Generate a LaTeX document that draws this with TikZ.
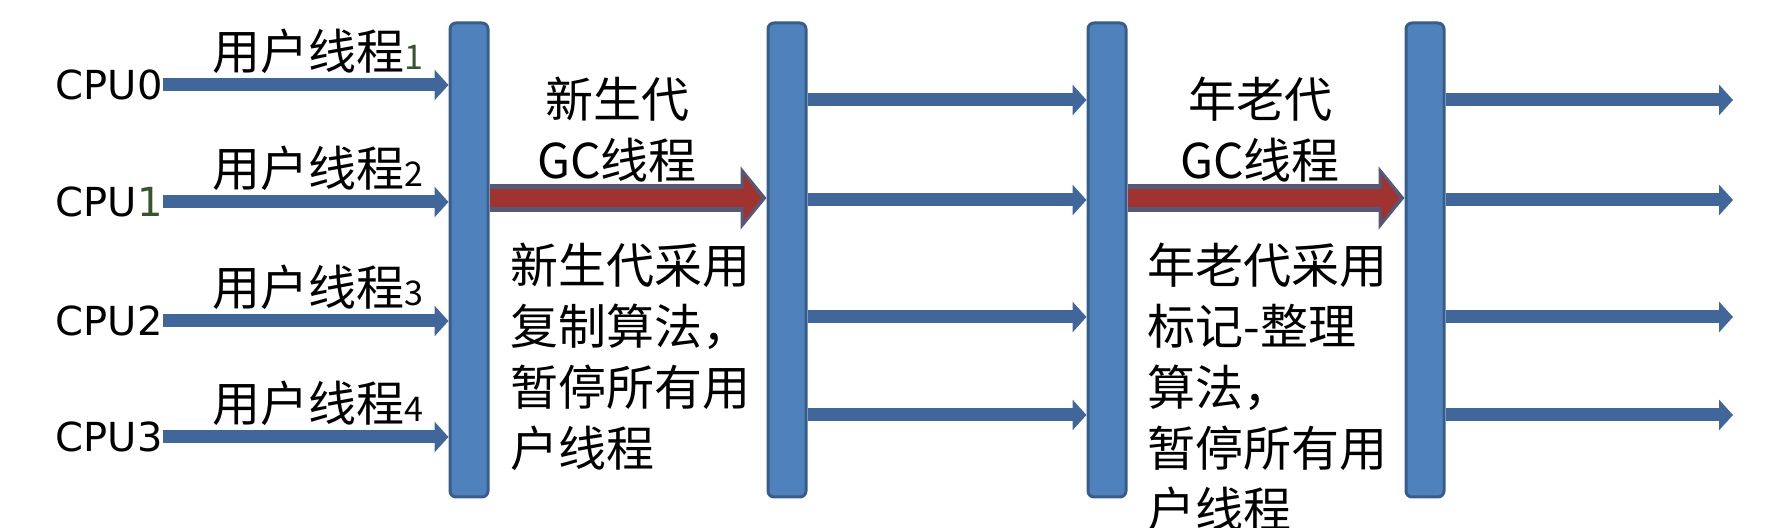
\documentclass[tikz,border=0pt]{standalone}
\usepackage{fontspec}
\setmainfont{DejaVu Sans}
\newfontfamily\cjk{Noto Sans CJK SC}
\usetikzlibrary{arrows.meta}
\definecolor{barfill}{RGB}{79,129,189}
\definecolor{barline}{RGB}{56,93,138}
\definecolor{threadblue}{RGB}{65,102,153}
\definecolor{gcred}{RGB}{160,50,48}
\definecolor{gcedge}{RGB}{85,88,118}
\definecolor{digitgreen}{RGB}{55,85,45}
\newcommand{\smalldigit}[1]{{\fontsize{17pt}{17pt}\selectfont #1}}

\begin{document}
\begin{tikzpicture}[x=0.5pt,y=-0.5pt,
	bar/.style={draw=barline,fill=barfill,line width=1.5pt,rounded corners=3pt,minimum width=19pt,minimum height=237pt,inner sep=0pt},
	thread/.style={line width=6.5pt,draw=threadblue,-{Triangle[length=7pt,width=15pt]}},
	gcflow/.style={line width=14pt,draw=gcedge,-{Triangle[length=13pt,width=31pt]},
		postaction={draw=gcred,line width=9pt,shorten >=2.5pt,-{Triangle[length=9pt,width=23pt]}}},
	cpu/.style={inner sep=0pt,anchor=east,font=\fontsize{20pt}{20pt}\selectfont},
	tname/.style={inner sep=0pt,font=\cjk\fontsize{24pt}{24pt}\selectfont},
	note/.style={inner sep=0pt,font=\cjk\fontsize{24pt}{30.5pt}\selectfont}
]
\useasboundingbox (0,0) rectangle (1772,528);
	% the four pause bars
	\foreach \x [count=\i] in {469,787,1107,1425}
		\node[bar] (bar\i) at (\x,260) {};

	% user threads running on the CPUs
	\foreach \y/\d/\n [count=\i from 0] in {85/0/{\textcolor{digitgreen}{1}},202/{\textcolor{digitgreen}{1}}/2,321/2/3,437/3/4} {
		\node[cpu] (cpu\i) at (163,\y) {CPU\d};
		\node[tname] (user\i) at (318,\y-34) {用户线程\smalldigit{\n}};
		\draw[thread] (cpu\i.east) -- (bar1.west |- cpu\i.east);
	}

	% threads resumed after each collection
	\foreach \y [count=\i] in {100,200,317,415} {
		\coordinate (mid\i) at (0,\y);
		\draw[thread] (bar2.east |- mid\i) -- (bar3.west |- mid\i);
		\coordinate (out\i) at (1733,\y);
		\draw[thread] (bar4.east |- out\i) -- (out\i);
	}

	% GC threads
	\coordinate (gc) at (0,198);
	\draw[gcflow] (bar1.east |- gc) -- (bar2.west |- gc);
	\draw[gcflow] (bar3.east |- gc) -- (bar4.west |- gc);

	\node[note,anchor=north,align=center] (younggc) at (617,77) {新生代\\GC线程};
	\node[note,anchor=north west,align=left] (youngnote) at (510,243) {新生代采用\\复制算法，\\暂停所有用\\户线程};
	\node[note,anchor=north,align=center] (oldgc) at (1260,77) {年老代\\GC线程};
	\node[note,anchor=north west,align=left] (oldnote) at (1147,243) {年老代采用\\标记-整理\\算法，\\暂停所有用\\户线程};
\end{tikzpicture}
\end{document}
